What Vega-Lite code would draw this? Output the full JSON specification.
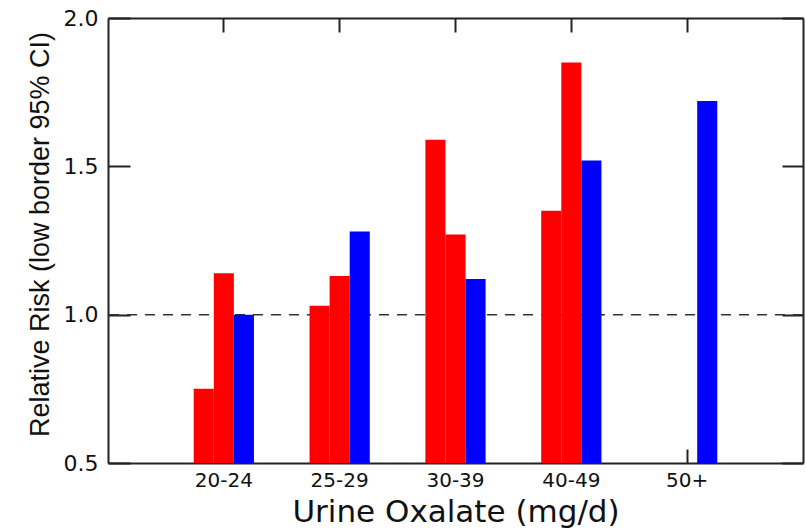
{
  "$schema": "https://vega.github.io/schema/vega-lite/v6.json",
  "width": 695,
  "height": 445,
  "autosize": "none",
  "padding": {"left": 108, "top": 18, "right": 3, "bottom": 66},
  "background": "white",
  "config": {"view": {"stroke": null}, "axis": {"grid": false}},
  "data": {
    "values": [
      {"oxalate": "20-24", "series": "Series 1", "rr": 0.75},
      {"oxalate": "20-24", "series": "Series 2", "rr": 1.14},
      {"oxalate": "20-24", "series": "Series 3", "rr": 1.00},
      {"oxalate": "25-29", "series": "Series 1", "rr": 1.03},
      {"oxalate": "25-29", "series": "Series 2", "rr": 1.13},
      {"oxalate": "25-29", "series": "Series 3", "rr": 1.28},
      {"oxalate": "30-39", "series": "Series 1", "rr": 1.59},
      {"oxalate": "30-39", "series": "Series 2", "rr": 1.27},
      {"oxalate": "30-39", "series": "Series 3", "rr": 1.12},
      {"oxalate": "40-49", "series": "Series 1", "rr": 1.35},
      {"oxalate": "40-49", "series": "Series 2", "rr": 1.85},
      {"oxalate": "40-49", "series": "Series 3", "rr": 1.52},
      {"oxalate": "50+", "series": "Series 3", "rr": 1.72}
    ]
  },
  "layer": [
    {
      "data": {"values": [{"ref": 1.0}]},
      "mark": {"type": "rule", "strokeDash": [10, 8], "color": "#333333", "strokeWidth": 1.5},
      "encoding": {
        "y": {"field": "ref", "type": "quantitative", "scale": {"domain": [0.5, 2], "zero": false, "nice": false}, "axis": null}
      }
    },
    {
      "mark": {"type": "bar"},
      "encoding": {
        "x": {
          "field": "oxalate", "type": "nominal",
          "sort": ["20-24", "25-29", "30-39", "40-49", "50+"],
          "scale": {"domain": ["20-24", "25-29", "30-39", "40-49", "50+"], "paddingInner": 0.48, "paddingOuter": 0.74},
          "axis": {
            "orient": "bottom", "title": "Urine Oxalate (mg/d)", "labelAngle": 0,
            "tickSize": -14, "labelPadding": 21, "domainColor": "#222222", "domainWidth": 2,
            "tickColor": "#222222", "tickWidth": 2,
            "labelFont": "DejaVu Sans", "labelFontSize": 20, "labelColor": "#111111",
            "titleFont": "DejaVu Sans", "titleFontSize": 31, "titleFontWeight": "normal", "titleColor": "#111111",
            "titleBaseline": "alphabetic", "titleY": 58
          }
        },
        "xOffset": {"field": "series", "type": "nominal", "scale": {"domain": ["Series 1", "Series 2", "Series 3"], "paddingInner": 0, "paddingOuter": 0}},
        "y": {
          "field": "rr", "type": "quantitative",
          "scale": {"domain": [0.5, 2], "zero": false, "nice": false},
          "axis": {
            "orient": "left", "values": [0.5, 1, 1.5, 2], "format": ".1f",
            "tickSize": -22, "labelPadding": 32, "domainColor": "#222222", "domainWidth": 2,
            "tickColor": "#222222", "tickWidth": 2,
            "labelFont": "DejaVu Sans", "labelFontSize": 22, "labelColor": "#111111",
            "title": "Relative Risk (low border 95% CI)",
            "titleFont": "Liberation Sans", "titleFontSize": 27, "titleFontWeight": "normal", "titleColor": "#111111",
            "titleBaseline": "alphabetic", "titleX": -60, "titleY": 216, "titleAlign": "center"
          }
        },
        "y2": {"datum": 0.5},
        "color": {
          "field": "series", "type": "nominal",
          "scale": {"domain": ["Series 1", "Series 2", "Series 3"], "range": ["#ff0000", "#ff0000", "#0000ff"]},
          "legend": null
        }
      }
    },
    {
      "mark": {"type": "bar", "opacity": 0},
      "encoding": {
        "x": {
          "field": "oxalate", "type": "nominal",
          "sort": ["20-24", "25-29", "30-39", "40-49", "50+"],
          "axis": {
            "orient": "top", "title": null, "labels": false,
            "tickSize": -14, "domainColor": "#222222", "domainWidth": 2,
            "tickColor": "#222222", "tickWidth": 2
          }
        },
        "y": {
          "field": "rr", "type": "quantitative",
          "axis": {
            "orient": "right", "title": null, "labels": false, "values": [0.5, 1, 1.5, 2],
            "tickSize": -21, "domainColor": "#222222", "domainWidth": 2,
            "tickColor": "#222222", "tickWidth": 2
          }
        }
      }
    }
  ],
  "resolve": {"axis": {"x": "independent", "y": "independent"}}
}
